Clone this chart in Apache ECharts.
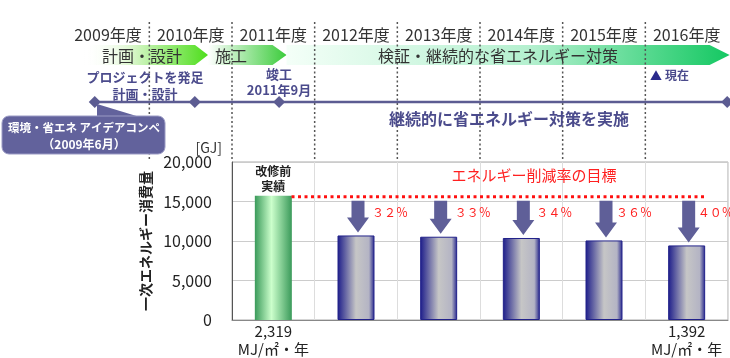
<!DOCTYPE html>
<html><head><meta charset="utf-8">
<script src="https://cdn.jsdelivr.net/npm/echarts@6/dist/echarts.min.js"></script>
<style>html,body{margin:0;padding:0;background:#fff}#c{width:730px;height:358px}</style>
</head><body><div id="c"></div>
<script>
// ---- data ----
const fiscalYears = ['2009年度','2010年度','2011年度','2012年度','2013年度','2014年度','2015年度','2016年度'];
const barCategories = ['改修前','2012年度','2013年度','2014年度','2015年度','2016年度'];
const energyGJ = [15730, 10700, 10540, 10380, 10070, 9440];
const reductionLabels = ['', '３２％', '３３％', '３４％', '３６％', '４０％'];
const bottomLabels = ['2,319\nMJ/㎡・年', '', '', '', '', '1,392\nMJ/㎡・年'];
const targetGJ = 15600;
const targetSpan = [0.72, 5.74];
const yTicks = [0, 5000, 10000, 15000, 20000];
const phaseNames = ['計画・設計', '施工', '検証・継続的な省エネルギー対策'];
const phaseSpans = [[0.2, 1.71], [1.71, 2.66], [2.66, 8.02]];
const milestonePos = [0.34, 1.55, 2.57, 7.99];

// ---- layout helpers ----
const FONT = '"Noto Sans CJK JP", "Noto Sans", sans-serif';
const W = 730, gridLeft = 232, gridRight = 2, gridTop = 162, gridBottom = 38;
const colW = (W - gridRight - gridLeft) / 6;
const x0 = gridLeft - 2 * colW;
const X = u => x0 + u * colW;
const purple = '#4b4b8c';
const pctOffsets = [0, 16, 16, 15, 12, 11];

const graphics = [];
// phase arrows
const phaseGrad = [
  [{offset:0,color:'rgba(255,255,255,0)'},{offset:0.35,color:'#e2f8d6'},{offset:1,color:'#4ede1c'}],
  [{offset:0,color:'#ffffff'},{offset:1,color:'#3ccc3c'}],
  [{offset:0,color:'#f4fff8'},{offset:0.55,color:'#b4f0cf'},{offset:1,color:'#14c862'}]
];
const headLen = [13, 14, 20];
const phaseTextX = [142, 231, 498];
phaseSpans.forEach((s, i) => {
  const a = X(s[0]), b = X(s[1]), h = headLen[i];
  graphics.push({type:'polygon', z:1, shape:{points:[[a,45],[b-h,45],[b,55],[b-h,65],[a,65]]},
    style:{fill:{type:'linear',x:0,y:0,x2:1,y2:0,colorStops:phaseGrad[i]}}});
  graphics.push({type:'text', z:3, x:phaseTextX[i], y:56, style:{text:phaseNames[i], fill:'#333', font:'16px '+FONT, textAlign:'center', textVerticalAlign:'middle'}});
});
// year labels
fiscalYears.forEach((y, k) => {
  graphics.push({type:'text', z:3, x:X(k+0.5), y:35, style:{text:y, fill:'#333', font:'16px '+FONT, textAlign:'center', textVerticalAlign:'middle'}});
});
// separators
for (let k = 1; k < fiscalYears.length; k++) {
  graphics.push({type:'line', z:2, shape:{x1:X(k), y1:22, x2:X(k), y2:160}, style:{stroke:'#555', lineWidth:1.5, lineDash:[2,2.5]}});
}
// timeline
graphics.push({type:'line', z:4, shape:{x1:X(milestonePos[0]), y1:102, x2:X(milestonePos[3]), y2:102}, style:{stroke:'#5c5c92', lineWidth:2.5}});
milestonePos.forEach(p => {
  const cx = X(p);
  graphics.push({type:'polygon', z:5, shape:{points:[[cx,96],[cx+6,102],[cx,108],[cx-6,102]]}, style:{fill:'#5c5c92'}});
});
graphics.push({type:'text', z:5, x:145, y:77, style:{text:'プロジェクトを発足', fill:purple, font:'bold 13px '+FONT, textAlign:'center', textVerticalAlign:'middle'}});
graphics.push({type:'text', z:5, x:145, y:94, style:{text:'計画・設計', fill:purple, font:'bold 13px '+FONT, textAlign:'center', textVerticalAlign:'middle'}});
graphics.push({type:'text', z:5, x:279, y:74, style:{text:'竣工', fill:purple, font:'bold 13px '+FONT, textAlign:'center', textVerticalAlign:'middle'}});
graphics.push({type:'text', z:5, x:279, y:90, style:{text:'2011年9月', fill:purple, font:'bold 13px '+FONT, textAlign:'center', textVerticalAlign:'middle'}});
graphics.push({type:'text', z:5, x:650, y:76, style:{text:'▲', fill:'#2a2a8c', font:'12px '+FONT, textVerticalAlign:'middle'}});
graphics.push({type:'text', z:5, x:665, y:75, style:{text:'現在', fill:purple, font:'bold 12px '+FONT, textVerticalAlign:'middle'}});
graphics.push({type:'text', z:5, x:509, y:119, style:{text:'継続的に省エネルギー対策を実施', fill:purple, font:'bold 16px '+FONT, textAlign:'center', textVerticalAlign:'middle'}});
// callout
graphics.push({type:'polygon', z:6, shape:{points:[[97,104],[97,118],[143,118]]}, style:{fill:'#62629c'}});
graphics.push({type:'rect', z:6, shape:{x:2,y:116,width:163,height:38,r:7}, style:{fill:'#62629c', stroke:'#9a9ac4', lineWidth:1}});
graphics.push({type:'text', z:7, x:84, y:128, style:{text:'環境・省エネ アイデアコンペ', fill:'#fff', font:'bold 11.5px '+FONT, textAlign:'center', textVerticalAlign:'middle'}});
graphics.push({type:'text', z:7, x:84, y:144, style:{text:'（2009年6月）', fill:'#fff', font:'bold 12px '+FONT, textAlign:'center', textVerticalAlign:'middle'}});
// chart annotations
graphics.push({type:'text', z:7, x:222, y:148, style:{text:'[GJ]', fill:'#333', font:'14px '+FONT, textAlign:'right', textVerticalAlign:'middle'}});
graphics.push({type:'text', z:7, x:534, y:175, style:{text:'エネルギー削減率の目標', fill:'#ff2020', font:'15px '+FONT, textAlign:'center', textVerticalAlign:'middle'}});

const greenGrad = {type:'linear',x:0,y:0,x2:1,y2:0,colorStops:[{offset:0,color:'#3a9a5a'},{offset:0.45,color:'#ccffcc'},{offset:1,color:'#3a9a5a'}]};
const navyGrad = {type:'linear',x:0,y:0,x2:1,y2:0,colorStops:[{offset:0,color:'#1c1c8a'},{offset:0.5,color:'#c6c6c6'},{offset:0.85,color:'#b4b4c4'},{offset:1,color:'#24248c'}]};

const chart = echarts.init(document.getElementById('c'), null, {renderer:'canvas'});
chart.setOption({
  animation:false,
  textStyle:{fontFamily:FONT},
  grid:{left:gridLeft, right:gridRight, top:gridTop, bottom:gridBottom, show:true, borderColor:'#aaa', borderWidth:1, containLabel:false, outerBoundsMode:'none'},
  xAxis:[{
    type:'category', data:barCategories,
    axisTick:{show:false},
    axisLine:{lineStyle:{color:'#888'}},
    splitLine:{show:true, lineStyle:{color:'#ddd'}},
    axisLabel:{interval:0, formatter:(v, i) => bottomLabels[i], fontSize:15, color:'#222', lineHeight:18, margin:2}
  },{
    type:'value', min:0, max:6, show:false
  }],
  yAxis:{
    type:'value', min:yTicks[0], max:yTicks[yTicks.length-1], interval:5000,
    axisLine:{show:true, lineStyle:{color:'#555'}},
    axisTick:{show:false},
    splitLine:{lineStyle:{color:'#ccc'}},
    axisLabel:{fontSize:16, color:'#222', margin:20, formatter:v => v.toLocaleString('en-US')},
    name:'一次エネルギー消費量', nameLocation:'middle', nameGap:79, nameRotate:90,
    nameTextStyle:{fontSize:14, fontWeight:'bold', color:'#222'}
  },
  series:[{
    type:'bar', barWidth:37, z:2,
    data:energyGJ.map((v, i) => i === 0 ? {
      value:v, itemStyle:{color:greenGrad},
      label:{show:true, position:'top', distance:2, formatter:'改修前\n実績', fontSize:12, fontWeight:'bold', color:'#222', lineHeight:15}
    } : {value:v, itemStyle:{color:navyGrad, borderColor:'#22228a', borderWidth:1}})
  },{
    type:'line', xAxisIndex:1, symbol:'none', silent:true, z:3,
    data:[[targetSpan[0], targetGJ], [targetSpan[1], targetGJ]],
    lineStyle:{color:'#ff1010', width:3, type:[3,3.5]}
  },{
    type:'custom', z:4,
    data:energyGJ.map((v, i) => [i, v]).filter(d => d[0] > 0),
    renderItem:(params, api) => {
      const i = api.value(0), v = api.value(1);
      const top = api.coord([i, targetGJ]), bot = api.coord([i, v]);
      const bx = top[0], cx = bx + 2, y0 = top[1] + 4, y1 = bot[1] - 3;
      const sw = 6.5, hw = 11, hh = 15;
      return {type:'group', children:[
        {type:'polygon', shape:{points:[[cx-sw,y0],[cx+sw,y0],[cx+sw,y1-hh],[cx+hw,y1-hh],[cx,y1],[cx-hw,y1-hh],[cx-sw,y1-hh]]}, style:{fill:'#5f5f98'}},
        {type:'text', x:bx+pctOffsets[i], y:y0+11.5, style:{text:reductionLabels[i], fill:'#ff2020', font:'12px '+FONT, textVerticalAlign:'middle'}}
      ]};
    }
  }],
  graphic:graphics
});
</script></body></html>
